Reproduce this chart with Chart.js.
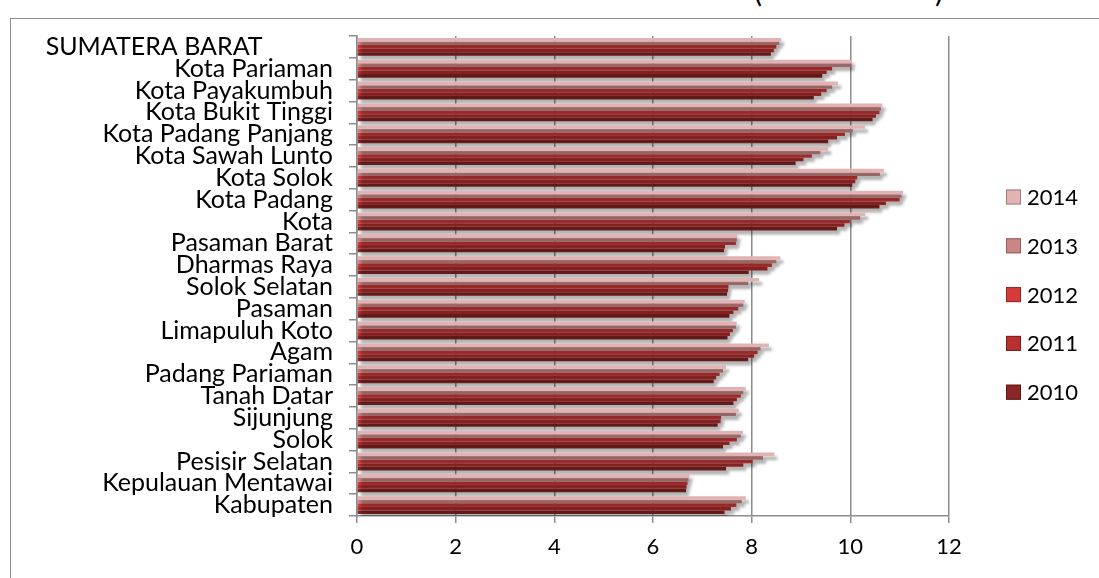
<!DOCTYPE html>
<html>
<head>
<meta charset="utf-8">
<script src="https://cdn.jsdelivr.net/npm/chart.js@4.4.0/dist/chart.umd.min.js"></script>
<style>
  body { margin: 0; background: #fff; overflow: hidden; }
  #wrap { position: relative; width: 1099px; height: 578px; }
  #frame { position: absolute; left: 10px; top: 18px; width: 1100px; height: 600px; border: 1px solid #8c8c8c; }
  .paren { position: absolute; top: -28px; font: 30px Lato, sans-serif; color: #000; }
  canvas { position: absolute; left: 0; top: 0; }
</style>
</head>
<body>
<div id="wrap">
  <div id="frame"></div>
  <span class="paren" style="left:754px">(</span>
  <span class="paren" style="left:935px">)</span>
  <canvas id="chart" width="1099" height="578"></canvas>
</div>
<script>
// regions, top to bottom as shown on the axis
var regions = ['SUMATERA BARAT', 'Kota Pariaman', 'Kota Payakumbuh', 'Kota Bukit Tinggi',
    'Kota Padang Panjang', 'Kota Sawah Lunto', 'Kota Solok', 'Kota Padang', 'Kota',
    'Pasaman Barat', 'Dharmas Raya', 'Solok Selatan', 'Pasaman', 'Limapuluh Koto', 'Agam',
    'Padang Pariaman', 'Tanah Datar', 'Sijunjung', 'Solok', 'Pesisir Selatan',
    'Kepulauan Mentawai', 'Kabupaten'];

var years = ['2014', '2013', '2012', '2011', '2010'];

var v2014 = [8.60, 10.03, 9.75, 10.65, 10.30, 9.55, 10.68, 11.07, 10.30, 7.71, 8.58, 8.15, 7.86, 7.70, 8.35, 7.48, 7.88, 7.74, 7.82, 8.46, 6.74, 7.88];
var v2013 = [8.56, 10.02, 9.63, 10.62, 10.05, 9.39, 10.60, 11.04, 10.20, 7.70, 8.50, 7.93, 7.83, 7.68, 8.18, 7.42, 7.83, 7.68, 7.78, 8.23, 6.72, 7.80];
var v2012 = [8.50, 9.63, 9.52, 10.59, 9.89, 9.22, 10.14, 11.00, 9.99, 7.68, 8.41, 7.53, 7.73, 7.62, 8.12, 7.35, 7.78, 7.38, 7.70, 8.02, 6.70, 7.69];
var v2011 = [8.45, 9.52, 9.41, 10.52, 9.73, 9.05, 10.10, 10.72, 9.88, 7.46, 8.32, 7.52, 7.63, 7.56, 8.05, 7.28, 7.70, 7.37, 7.55, 7.83, 6.68, 7.58];
var v2010 = [8.39, 9.43, 9.26, 10.45, 9.55, 8.89, 10.04, 10.59, 9.73, 7.44, 7.94, 7.50, 7.55, 7.51, 7.93, 7.23, 7.63, 7.31, 7.42, 7.48, 6.67, 7.45];

var xTicks = [0, 2, 4, 6, 8, 10, 12];

var seriesValues = [v2014, v2013, v2012, v2011, v2010];
var colors = ['#e2b3b3', '#c98686', '#d43c3c', '#b83030', '#8a2626'];
var edges = ['#a07c7c', '#9a5a5a', '#9c2424', '#7e1f1f', '#5c1818'];

var FONT = 'Lato, "Open Sans", sans-serif';

// bar shadow, like the office 3D look
var shadowPlugin = {
    id: 'shadow',
    beforeDatasetsDraw: function(chart) {
        var ctx = chart.ctx;
        ctx.save();
        ctx.shadowColor = 'rgba(0,0,0,0.32)';
        ctx.shadowBlur = 3;
        ctx.shadowOffsetX = 3;
        ctx.shadowOffsetY = 4;
    },
    afterDatasetsDraw: function(chart) {
        chart.ctx.restore();
    }
};

// legend on the right, drawn by hand
var legendPlugin = {
    id: 'sideLegend',
    afterDraw: function(chart) {
        var ctx = chart.ctx;
        var x = 1006, y = 197, step = 48.8;
        ctx.save();
        ctx.font = '22px ' + FONT;
        ctx.textBaseline = 'middle';
        chart.data.datasets.forEach(function(ds, i) {
            var cy = y + i * step;
            ctx.fillStyle = ds.backgroundColor;
            ctx.fillRect(x, cy - 7.5, 15, 15);
            ctx.strokeStyle = edges[i];
            ctx.lineWidth = 1;
            ctx.strokeRect(x + 0.5, cy - 7, 14, 14);
            ctx.fillStyle = '#000';
            ctx.fillText(ds.label, x + 21, cy + 1);
        });
        ctx.restore();
    }
};

var datasets = [];
years.forEach(function(y, i) {
    datasets.push({
        label: y,
        data: seriesValues[i],
        backgroundColor: colors[i],
        borderColor: edges[i],
        borderWidth: 0,
        barPercentage: 1.0,
        categoryPercentage: 0.82
    });
});

var ctx = document.getElementById('chart');
new Chart(ctx, {
    type: 'bar',
    data: { labels: regions, datasets: datasets },
    options: {
        indexAxis: 'y',
        responsive: false,
        animation: false,
        layout: { padding: { top: 36, right: 150, bottom: 0, left: 0 } },
        plugins: {
            legend: { display: false },
            tooltip: { enabled: false }
        },
        scales: {
            x: {
                min: 0,
                max: 12,
                afterFit: function(s) { s.height = 62; },
                afterBuildTicks: function(s) { s.ticks = xTicks.map(function(v) { return { value: v }; }); },
                grid: { color: '#8c8c8c', lineWidth: 1.5, tickLength: 7 },
                border: { color: '#8c8c8c', width: 1.5 },
                ticks: { color: '#000', font: { family: FONT, size: 22 }, padding: 11, maxRotation: 0 }
            },
            y: {
                afterFit: function(s) { s.width = 357; },
                grid: { drawOnChartArea: false, offset: true, color: '#8c8c8c', lineWidth: 1.5, tickLength: 8 },
                border: { color: '#8c8c8c', width: 1.5 },
                ticks: {
                    color: '#000',
                    font: { family: FONT, size: 25 },
                    padding: 16,
                    autoSkip: false,
                    callback: function(v, i) {
                        var t = this.getLabelForValue(v);
                        // the total row sits further left in the original
                        if (t === 'SUMATERA BARAT') t = t + '           ';
                        return t;
                    }
                }
            }
        }
    },
    plugins: [shadowPlugin, legendPlugin]
});
</script>
</body>
</html>
